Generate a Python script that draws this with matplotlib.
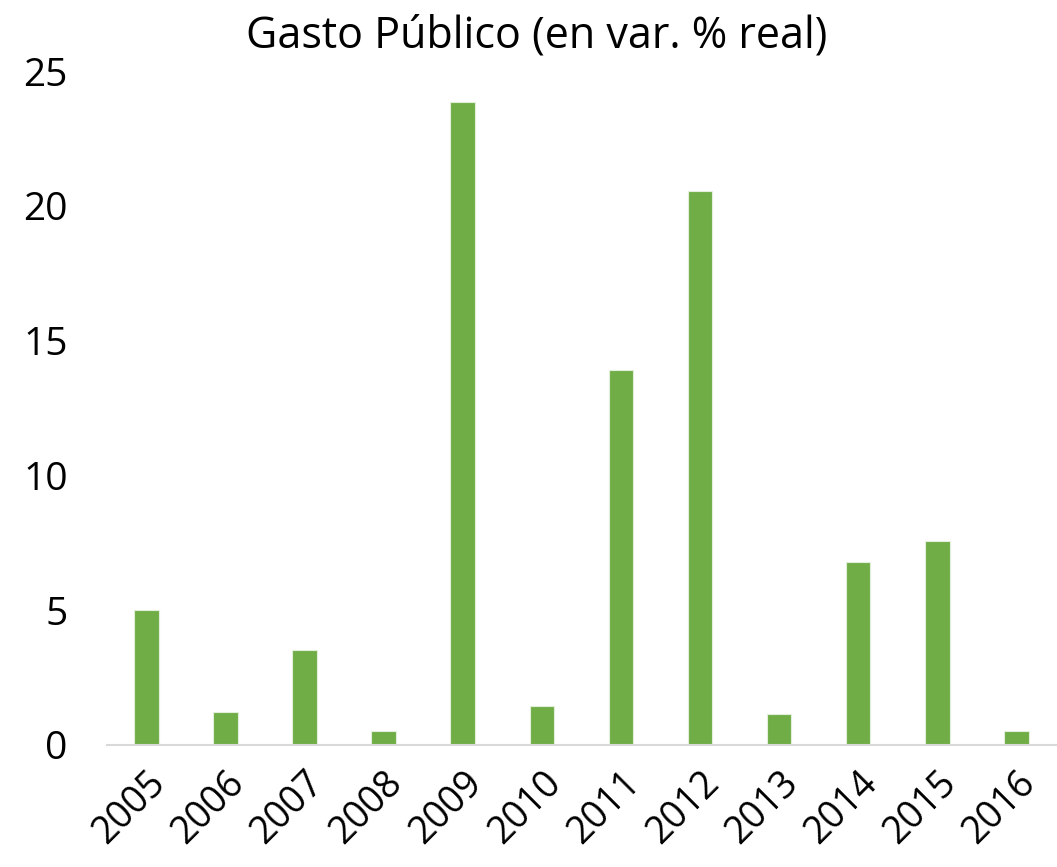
import matplotlib
import numpy as np
import matplotlib.pyplot as plt

matplotlib.use('Agg')

# data
years = ['2005', '2006', '2007', '2008', '2009', '2010',
         '2011', '2012', '2013', '2014', '2015', '2016']
gasto = [5.0, 1.2, 3.5, 0.5, 23.85, 1.45, 13.9, 20.55, 1.15, 6.8, 7.55, 0.5]
y_ticks = [0, 5, 10, 15, 20, 25]

plt.rcParams['font.family'] = ['Open Sans', 'DejaVu Sans']

fig = plt.figure(figsize=(10.57, 8.67), dpi=100)
ax = fig.add_axes([0.101, 0.141, 0.898, 0.777])

x = np.arange(len(years))
ax.bar(x, gasto, width=0.31, color='#70AD47', edgecolor='#E2EFDA', linewidth=0.8)

ax.set_xlim(-0.5, len(years) - 0.5)
ax.set_ylim(0, 25)
ax.set_yticks(y_ticks)
ax.set_yticklabels([str(t) for t in y_ticks], fontsize=28)
ax.set_xticks(x)
ax.set_xticklabels(years, fontsize=27, rotation=45, ha='right',
                   rotation_mode='anchor')

for side in ['top', 'right', 'left']:
    ax.spines[side].set_visible(False)
ax.spines['bottom'].set_color('#D9D9D9')
ax.spines['bottom'].set_linewidth(1.5)
ax.tick_params(axis='both', length=0)
ax.tick_params(axis='x', pad=14)
ax.tick_params(axis='y', pad=28)

fig.text(0.508, 0.945, 'Gasto Público (en var. % real)', ha='center',
         va='baseline', fontsize=31)

plt.savefig('out.png', dpi=100)
